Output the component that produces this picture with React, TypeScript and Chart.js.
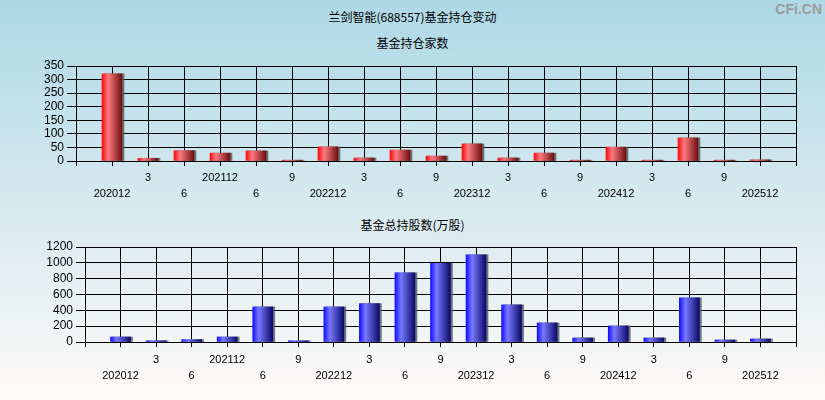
import React, { useEffect, useRef } from "react";
import { Chart, registerables } from "chart.js";

Chart.register(...registerables);

const periods = ["202012", "3", "6", "202112", "6", "9", "202212", "3", "6", "9", "202312", "3", "6", "9", "202412", "3", "6", "9", "202512"];
const fundCounts = [321, 10, 38, 29, 37, 3, 52, 11, 40, 18, 63, 11, 29, 3, 51, 3, 85, 3, 4];
const fundShares = [63, 15, 30, 63, 443, 15, 443, 485, 874, 995, 1102, 469, 241, 51, 203, 51, 557, 25, 38];
const countTicks = { max: 350, step: 50 };
const shareTicks = { max: 1200, step: 200 };

const TICK_FONT = { family: "'Liberation Sans', Arial, sans-serif", size: 11, lineHeight: "16px" };

const shadowPlugin = {
  id: "barShadow",
  beforeDatasetsDraw(chart: any) {
    const ctx = chart.ctx;
    ctx.save();
    ctx.shadowColor = "rgba(90,95,105,0.85)";
    ctx.shadowOffsetX = 2;
    ctx.shadowOffsetY = 0;
    ctx.shadowBlur = 0;
  },
  afterDatasetsDraw(chart: any) {
    chart.ctx.restore();
  },
};

function makeGradient(stops: string[]) {
  return (c: any) => {
    const chart = c.chart;
    if (!chart.chartArea || c.type !== "data") return stops[0];
    const xs = chart.scales.x;
    const cx = xs.getPixelForValue(c.dataIndex);
    const g = chart.ctx.createLinearGradient(cx - 10, 0, cx + 10, 0);
    g.addColorStop(0, stops[0]);
    g.addColorStop(0.3, stops[1]);
    g.addColorStop(1, stops[2]);
    return g;
  };
}

function buildConfig(values: number[], yCfg: { max: number; step: number }, axisW: number, padTop: number, xAxisH: number, labelPad: number, colors: string[]) {
  return {
    type: "bar" as const,
    data: {
      datasets: [
        {
          data: values.map((v, i) => ({ x: i, y: v })),
          backgroundColor: makeGradient(colors),
          borderWidth: 0,
          barThickness: 20,
        },
      ],
    },
    options: {
      responsive: false,
      animation: false as const,
      devicePixelRatio: 1,
      layout: { padding: { top: padTop, right: 29, left: 0, bottom: 0 } },
      plugins: { legend: { display: false }, tooltip: { enabled: false } },
      scales: {
        x: {
          type: "linear" as const,
          min: -1,
          max: 19,
          offset: false,
          grid: { offset: false, color: "#000", lineWidth: 1, tickLength: 5, tickColor: "#000" },
          border: { color: "#000", width: 1 },
          afterFit: (s: any) => {
            s.height = xAxisH;
          },
          ticks: {
            stepSize: 1,
            autoSkip: false,
            maxRotation: 0,
            minRotation: 0,
            padding: labelPad,
            color: "#000",
            font: TICK_FONT,
            callback: (v: any) => {
              const i = Number(v);
              if (i < 0 || i >= periods.length) return "";
              return i % 2 === 0 ? ["", periods[i]] : [periods[i], ""];
            },
          },
        },
        y: {
          min: 0,
          max: yCfg.max,
          grid: { color: "#000", lineWidth: 1, tickLength: 9, tickColor: "#000" },
          border: { color: "#000", width: 1 },
          afterFit: (s: any) => {
            s.width = axisW;
          },
          ticks: {
            stepSize: yCfg.step,
            autoSkip: false,
            padding: 3,
            color: "#000",
            font: { family: "'Liberation Sans', Arial, sans-serif", size: 12, lineHeight: 1 },
            callback: (v: any) => String(v),
          },
        },
      },
    },
    plugins: [shadowPlugin],
  };
}

function BarPanel(props: { top: number; values: number[]; yCfg: { max: number; step: number }; axisW: number; padTop: number; xAxisH: number; labelPad: number; colors: string[] }) {
  const ref = useRef<HTMLCanvasElement | null>(null);
  useEffect(() => {
    if (!ref.current) return;
    const chart = new Chart(ref.current, buildConfig(props.values, props.yCfg, props.axisW, props.padTop, props.xAxisH, props.labelPad, props.colors) as any);
    return () => chart.destroy();
  }, []);
  return (
    <canvas
      ref={ref}
      width={825}
      height={200}
      style={{ position: "absolute", left: 0, top: props.top, width: 825, height: 200 }}
    />
  );
}

const titleStyle: React.CSSProperties = {
  position: "absolute",
  left: 0,
  width: 825,
  textAlign: "center",
  fontFamily: "'Noto Sans CJK SC', sans-serif",
  fontSize: 12,
  lineHeight: "16px",
  color: "#000",
};

export default function App() {
  return (
    <div
      style={{
        position: "fixed",
        left: 0,
        top: 0,
        width: 825,
        height: 400,
        overflow: "hidden",
        background: "linear-gradient(to bottom, rgb(173,216,230), rgb(255,250,248))",
      }}
    >
      <div style={{ ...titleStyle, top: 9 }}>兰剑智能(688557)基金持仓变动</div>
      <div style={{ ...titleStyle, top: 35 }}>基金持仓家数</div>
      <div style={{ ...titleStyle, top: 217 }}>基金总持股数(万股)</div>
      <div
        style={{
          position: "absolute",
          right: 3,
          top: 1,
          fontFamily: "'Liberation Sans', Arial, sans-serif",
          fontWeight: "bold",
          fontSize: 14,
          color: "#9a9a9a",
        }}
      >
        CFi.CN
      </div>
      <BarPanel top={0} values={fundCounts} yCfg={countTicks} axisW={76} padTop={66} xAxisH={39} labelPad={4} colors={["#f80a0a", "#ff7a80", "#6e1010"]} />
      <BarPanel top={200} values={fundShares} yCfg={shareTicks} axisW={85} padTop={47} xAxisH={58} labelPad={5} colors={["#1010ff", "#7878ff", "#0a0a6a"]} />
    </div>
  );
}
